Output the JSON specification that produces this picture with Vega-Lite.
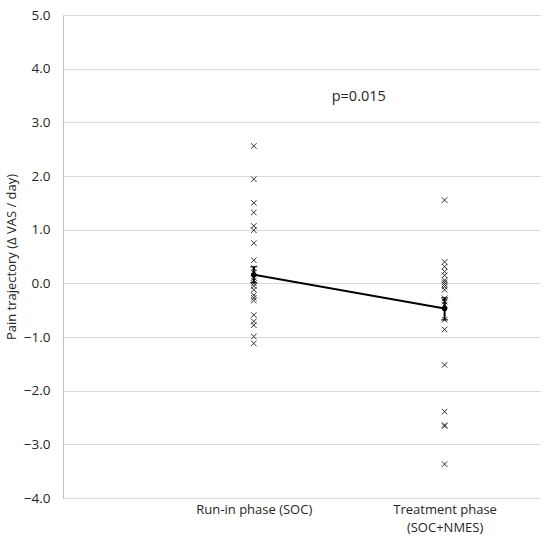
{
  "$schema": "https://vega.github.io/schema/vega-lite/v6.json",
  "width": 477,
  "height": 483,
  "autosize": "none",
  "padding": {"left": 63, "top": 15, "right": 10, "bottom": 46},
  "background": "white",
  "datasets": {
    "obs": [
      {"phase": 1, "value": 2.56}, {"phase": 1, "value": 1.94}, {"phase": 1, "value": 1.5},
      {"phase": 1, "value": 1.32}, {"phase": 1, "value": 1.07}, {"phase": 1, "value": 0.99},
      {"phase": 1, "value": 0.75}, {"phase": 1, "value": 0.43}, {"phase": 1, "value": 0.28},
      {"phase": 1, "value": 0.2}, {"phase": 1, "value": 0.1}, {"phase": 1, "value": 0.05},
      {"phase": 1, "value": 0.0}, {"phase": 1, "value": -0.05}, {"phase": 1, "value": -0.12},
      {"phase": 1, "value": -0.22}, {"phase": 1, "value": -0.27}, {"phase": 1, "value": -0.32},
      {"phase": 1, "value": -0.59}, {"phase": 1, "value": -0.71}, {"phase": 1, "value": -0.78},
      {"phase": 1, "value": -0.99}, {"phase": 1, "value": -1.12},
      {"phase": 2, "value": 1.55}, {"phase": 2, "value": 0.4}, {"phase": 2, "value": 0.31},
      {"phase": 2, "value": 0.22}, {"phase": 2, "value": 0.15}, {"phase": 2, "value": 0.06},
      {"phase": 2, "value": 0.02}, {"phase": 2, "value": -0.02}, {"phase": 2, "value": -0.06},
      {"phase": 2, "value": -0.12}, {"phase": 2, "value": -0.28}, {"phase": 2, "value": -0.34},
      {"phase": 2, "value": -0.4}, {"phase": 2, "value": -0.68}, {"phase": 2, "value": -0.86},
      {"phase": 2, "value": -1.52}, {"phase": 2, "value": -2.39}, {"phase": 2, "value": -2.64},
      {"phase": 2, "value": -2.66}, {"phase": 2, "value": -3.37}
    ],
    "means": [
      {"phase": 1, "mean": 0.16, "lo": 0.01, "hi": 0.31},
      {"phase": 2, "mean": -0.47, "lo": -0.68, "hi": -0.27}
    ]
  },
  "encoding": {
    "x": {
      "type": "quantitative",
      "scale": {"domain": [0, 2.5], "nice": false, "zero": false},
      "axis": {
        "title": null,
        "values": [1, 2],
        "grid": false,
        "ticks": false,
        "domain": false,
        "labelPadding": 5,
        "labelFontSize": 13,
        "labelLineHeight": 18,
        "labelColor": "#262626",
        "labelFont": "Open Sans",
        "labelExpr": "datum.value == 1 ? 'Run-in phase (SOC)' : ['Treatment phase', '(SOC+NMES)']"
      }
    },
    "y": {
      "type": "quantitative",
      "scale": {"domain": [-4, 5], "nice": false},
      "axis": {
        "title": "Pain trajectory (Δ VAS / day)",
        "values": [-4, -3, -2, -1, 0, 1, 2, 3, 4, 5],
        "format": ".1f",
        "grid": true,
        "gridColor": "#d9d9d9",
        "ticks": false,
        "domainColor": "#bfbfbf",
        "labelPadding": 13,
        "labelFontSize": 13.5,
        "labelColor": "#262626",
        "labelFont": "Open Sans",
        "titleFont": "Open Sans",
        "titleFontSize": 13,
        "titleFontWeight": "normal",
        "titleColor": "#262626",
        "titlePadding": 5
      }
    }
  },
  "layer": [
    {
      "data": {"name": "obs"},
      "mark": {
        "type": "point",
        "shape": "M-1,-1L1,1M-1,1L1,-1",
        "filled": false,
        "size": 30,
        "strokeWidth": 1,
        "color": "#333333",
        "opacity": 1
      },
      "encoding": {
        "x": {"field": "phase"},
        "y": {"field": "value"}
      }
    },
    {
      "data": {"name": "means"},
      "mark": {"type": "rule", "color": "black", "strokeWidth": 2},
      "encoding": {
        "x": {"field": "phase"},
        "y": {"field": "lo"},
        "y2": {"field": "hi"}
      }
    },
    {
      "data": {"name": "means"},
      "mark": {"type": "tick", "orient": "horizontal", "color": "black", "size": 7, "thickness": 1.5},
      "encoding": {
        "x": {"field": "phase"},
        "y": {"field": "lo"}
      }
    },
    {
      "data": {"name": "means"},
      "mark": {"type": "tick", "orient": "horizontal", "color": "black", "size": 7, "thickness": 1.5},
      "encoding": {
        "x": {"field": "phase"},
        "y": {"field": "hi"}
      }
    },
    {
      "data": {"name": "means"},
      "mark": {"type": "line", "color": "black", "strokeWidth": 2},
      "encoding": {
        "x": {"field": "phase"},
        "y": {"field": "mean"}
      }
    },
    {
      "data": {"name": "means"},
      "mark": {"type": "point", "shape": "circle", "filled": true, "size": 30, "color": "black", "opacity": 1},
      "encoding": {
        "x": {"field": "phase"},
        "y": {"field": "mean"}
      }
    },
    {
      "data": {"values": [{}]},
      "mark": {"type": "text", "text": "p=0.015", "font": "Open Sans", "fontSize": 14.5, "color": "#262626"},
      "encoding": {
        "x": {"datum": 1.55},
        "y": {"datum": 3.48}
      }
    }
  ],
  "config": {
    "view": {"stroke": null},
    "axis": {"labelFont": "Open Sans", "titleFont": "Open Sans"}
  }
}
